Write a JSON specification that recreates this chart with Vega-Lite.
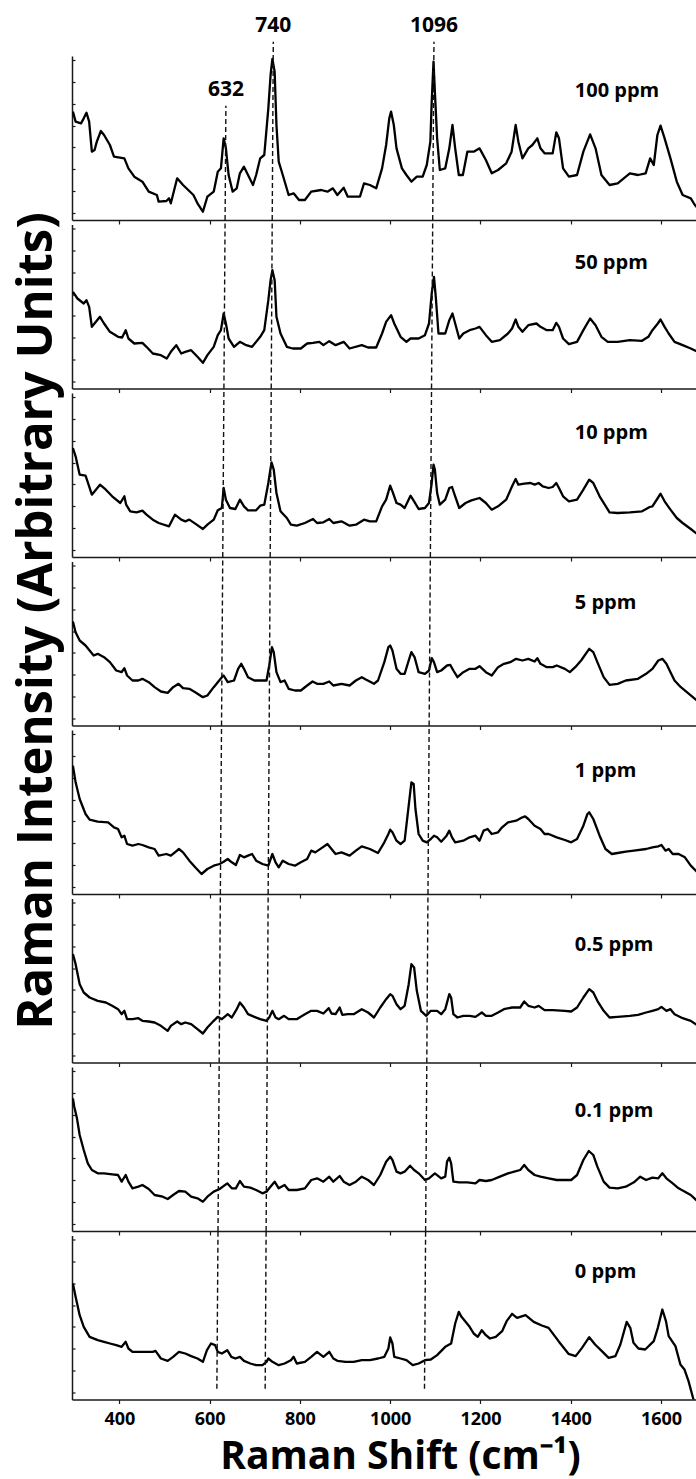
{
  "$schema": "https://vega.github.io/schema/vega-lite/v6.json",
  "description": "Stacked SERS spectra at eight concentrations with guide lines at 632, 740 and 1096 cm-1.",
  "padding": {"left": 11, "top": 14, "right": 0, "bottom": 0},
  "spacing": 4.5,
  "bounds": "flush",
  "config": {
    "font": "Open Sans",
    "view": {"stroke": null},
    "axis": {
      "grid": false,
      "domainColor": "#1a1a1a",
      "domainWidth": 1.5,
      "tickColor": "#1a1a1a",
      "tickWidth": 1.2,
      "labelFont": "Open Sans",
      "labelFontWeight": "bold",
      "labelFontSize": 18,
      "labelColor": "#000",
      "titleFont": "Open Sans",
      "titleFontWeight": "bold",
      "titleColor": "#000"
    }
  },
  "data": {
    "values": [
      {"conc": "100 ppm", "kind": "spectrum",
       "shift": [297,303,315,321,327,333,339,345,350,359,366,379,388,411,420,433,451,465,483,487,504,510,514,528,541,564,573,585,595,609,618,625,631,636,642,651,660,667,676,685,696,703,712,721,730,735,739,744,748,753,762,775,786,798,811,825,847,861,873,883,897,906,933,942,955,969,982,991,998,1002,1008,1014,1026,1036,1047,1059,1072,1081,1089,1092,1096,1099,1104,1110,1122,1131,1138,1144,1152,1161,1171,1185,1198,1212,1225,1239,1257,1269,1278,1284,1293,1306,1315,1326,1333,1342,1360,1368,1374,1383,1396,1414,1428,1443,1455,1468,1486,1504,1531,1549,1566,1576,1584,1592,1599,1608,1621,1635,1648,1666,1675,1682],
       "inten": [325,295,290,305,322,295,205,210,235,267,255,225,190,185,155,130,115,85,75,55,57,65,50,125,105,75,50,25,70,85,145,155,245,215,135,85,95,140,160,135,105,135,185,195,335,435,483,445,285,175,135,75,80,60,60,85,90,85,95,75,97,70,70,110,105,95,155,225,305,325,285,215,155,135,115,130,130,165,235,355,475,385,245,150,155,215,285,215,135,135,205,205,215,180,140,150,170,205,285,235,185,215,225,245,215,200,200,263,245,155,130,135,205,257,215,135,105,110,140,135,140,185,165,255,283,245,185,115,75,65,45,35]},
      {"conc": "50 ppm", "kind": "spectrum",
       "shift": [297,307,321,327,333,339,348,357,366,379,397,406,414,420,433,451,460,474,492,505,514,526,537,546,559,573,585,595,609,618,625,631,636,642,654,667,681,694,712,721,730,735,739,744,748,757,771,784,802,816,829,843,852,865,879,897,910,937,951,969,982,991,1002,1009,1023,1036,1045,1063,1077,1086,1092,1097,1101,1107,1122,1131,1138,1144,1153,1162,1176,1189,1198,1212,1225,1243,1261,1270,1278,1284,1293,1306,1324,1333,1347,1360,1368,1374,1383,1396,1414,1428,1443,1455,1468,1482,1504,1531,1558,1572,1581,1593,1599,1608,1617,1630,1648,1666,1682],
       "inten": [290,270,255,265,245,185,200,215,195,170,155,153,175,150,135,137,125,105,100,90,110,130,105,110,115,95,77,100,125,160,175,225,195,150,125,140,130,125,155,175,265,325,355,325,215,165,125,120,120,135,137,140,130,142,130,140,120,130,123,123,165,200,220,195,155,140,150,150,160,195,285,335,275,165,165,205,225,195,150,165,175,180,185,160,140,145,165,180,207,185,170,190,195,185,175,175,197,185,150,133,140,175,210,190,155,140,140,145,143,155,175,195,207,185,165,140,130,120,110]},
      {"conc": "10 ppm", "kind": "spectrum",
       "shift": [297,303,312,325,333,339,348,357,370,384,402,411,415,424,438,451,460,474,487,510,523,537,546,555,568,585,595,609,618,627,631,636,645,657,667,676,685,703,712,721,730,737,742,748,757,771,780,793,811,829,838,852,865,874,892,910,924,942,955,969,982,991,1000,1005,1014,1023,1032,1045,1053,1063,1077,1086,1092,1096,1099,1104,1110,1122,1131,1137,1144,1153,1167,1180,1198,1212,1225,1239,1257,1270,1278,1284,1297,1311,1320,1329,1338,1351,1360,1368,1374,1383,1396,1414,1428,1441,1450,1464,1486,1504,1531,1558,1575,1581,1593,1599,1608,1621,1635,1648,1666,1682],
       "inten": [327,302,247,244,212,187,202,217,202,182,162,182,157,137,134,139,127,112,102,92,127,112,107,112,100,84,97,112,140,147,207,172,147,144,172,152,140,140,154,157,222,284,262,192,137,117,97,94,102,114,102,104,114,102,107,94,97,112,107,107,152,172,214,197,162,157,147,184,167,144,147,162,222,277,262,192,157,172,207,210,182,147,162,170,177,162,142,152,172,212,234,217,220,222,217,222,212,207,210,222,207,182,167,172,202,232,222,182,134,132,134,137,150,152,177,190,167,142,117,102,84,67]},
      {"conc": "5 ppm", "kind": "spectrum",
       "shift": [297,303,312,325,334,343,352,366,379,393,405,411,417,429,442,451,465,478,492,507,519,531,541,555,568,585,595,609,618,627,631,640,654,663,670,676,685,699,712,726,732,738,742,748,757,766,775,789,802,816,828,838,852,865,874,892,910,924,937,946,964,973,987,996,1000,1005,1014,1023,1032,1041,1047,1054,1063,1077,1086,1092,1097,1104,1113,1126,1133,1140,1149,1162,1176,1189,1198,1212,1225,1239,1252,1266,1279,1293,1306,1320,1326,1333,1347,1360,1369,1387,1398,1410,1423,1441,1450,1459,1473,1486,1504,1522,1549,1567,1581,1594,1603,1612,1621,1630,1644,1662,1682],
       "inten": [312,280,255,240,225,210,215,205,190,165,160,172,150,135,135,140,130,115,102,98,115,125,112,110,100,85,90,115,130,145,150,130,135,170,185,170,145,135,135,135,180,235,220,160,130,135,110,105,105,120,132,125,125,132,120,125,120,135,145,138,125,135,190,235,240,225,170,155,155,195,220,205,160,155,165,202,190,160,165,180,182,165,145,160,170,170,178,160,150,175,185,190,200,195,200,192,202,185,175,175,180,170,160,175,195,230,220,190,145,122,125,135,140,155,170,195,200,185,160,135,115,95,72]},
      {"conc": "1 ppm", "kind": "spectrum",
       "shift": [297,303,312,325,334,352,375,388,397,405,411,417,429,442,451,465,478,487,504,514,523,532,541,555,568,582,595,609,622,631,640,649,658,667,676,685,694,703,717,730,739,746,753,762,775,789,802,816,825,834,847,861,870,879,892,910,924,937,955,973,987,996,1000,1005,1014,1023,1032,1041,1047,1052,1056,1063,1072,1081,1090,1097,1104,1113,1125,1131,1137,1144,1162,1176,1189,1198,1207,1216,1225,1239,1248,1261,1279,1293,1299,1306,1320,1333,1342,1351,1369,1387,1401,1414,1428,1437,1441,1450,1464,1477,1491,1504,1522,1540,1567,1581,1594,1601,1610,1617,1626,1639,1653,1666,1682],
       "inten": [385,335,285,240,223,217,215,200,195,170,175,150,145,150,147,140,135,115,120,115,125,135,125,100,80,60,75,85,90,97,105,95,87,117,110,115,120,100,90,85,120,95,80,100,90,85,95,105,130,125,137,150,135,120,125,115,130,143,135,123,155,180,193,185,160,150,160,265,335,330,255,180,160,155,165,175,170,157,175,190,170,155,160,170,175,160,190,195,180,185,200,215,220,230,233,225,205,195,180,180,170,162,155,165,205,240,245,225,175,135,120,123,127,130,135,140,143,147,130,135,120,120,110,85,63]},
      {"conc": "0.5 ppm", "kind": "spectrum",
       "shift": [297,303,312,321,334,352,370,384,397,405,411,417,429,442,451,465,478,492,507,514,528,537,546,559,573,585,595,609,618,627,640,649,660,667,676,685,699,712,726,732,739,746,753,765,775,793,811,825,838,852,864,870,879,888,894,906,919,937,951,964,978,991,1000,1005,1014,1023,1032,1041,1047,1053,1059,1068,1080,1090,1104,1113,1122,1131,1135,1140,1149,1162,1176,1189,1203,1212,1225,1239,1252,1270,1288,1297,1306,1320,1329,1342,1360,1387,1401,1414,1428,1441,1450,1459,1473,1486,1504,1531,1549,1567,1581,1594,1601,1612,1621,1630,1648,1666,1682],
       "inten": [325,295,235,210,195,185,180,170,160,145,155,130,130,133,125,123,120,110,95,110,123,115,120,115,100,87,105,125,137,130,145,135,160,180,165,145,137,130,125,135,155,135,130,140,130,130,145,155,155,147,163,147,145,165,143,145,145,160,150,135,165,190,205,200,175,160,170,235,295,285,215,155,140,155,155,145,160,205,195,145,135,140,140,137,150,140,140,150,160,165,165,183,170,165,170,157,157,155,153,165,195,220,210,185,155,135,137,140,143,150,155,160,167,155,160,145,133,125,110]},
      {"conc": "0.1 ppm", "kind": "spectrum",
       "shift": [297,300,306,312,321,330,339,352,366,384,397,405,414,420,429,442,451,465,478,496,507,519,532,546,559,573,585,595,609,622,639,649,658,667,676,690,703,717,726,732,744,753,766,775,793,811,825,838,852,865,874,888,897,910,924,937,951,964,978,991,1000,1005,1014,1023,1032,1044,1053,1063,1077,1086,1099,1113,1122,1126,1131,1135,1140,1153,1171,1189,1198,1212,1225,1243,1261,1275,1288,1297,1306,1320,1333,1351,1369,1387,1401,1414,1428,1440,1450,1459,1473,1486,1504,1522,1540,1554,1567,1581,1594,1603,1612,1626,1639,1653,1666,1682],
       "inten": [398,373,338,288,243,203,183,173,173,170,168,148,168,148,128,133,138,126,108,103,96,108,120,118,103,98,88,103,118,126,143,128,128,150,133,130,123,113,118,128,148,128,138,123,123,128,153,158,148,163,148,165,148,138,148,163,153,138,168,208,223,213,178,173,178,196,183,173,153,158,173,158,163,208,220,203,148,146,146,143,153,150,153,163,173,178,183,198,183,168,163,158,153,153,153,168,213,240,228,193,148,130,128,133,146,163,153,160,158,173,158,143,128,118,108,88]},
      {"conc": "0 ppm", "kind": "spectrum",
       "shift": [297,303,312,321,334,352,366,379,393,405,414,420,429,442,460,474,480,492,507,519,532,546,559,573,585,594,603,612,618,627,639,648,657,667,676,690,703,717,726,730,739,753,766,780,786,793,811,825,838,852,865,874,883,901,919,937,955,973,987,996,1000,1005,1009,1023,1036,1050,1063,1077,1090,1104,1122,1135,1144,1152,1158,1167,1176,1185,1194,1203,1212,1221,1234,1248,1258,1270,1281,1300,1318,1336,1351,1373,1395,1411,1425,1441,1454,1469,1484,1499,1510,1524,1532,1539,1550,1565,1584,1593,1603,1611,1617,1632,1643,1652,1661,1672,1682],
       "inten": [348,308,253,218,188,178,173,168,163,158,173,153,143,143,143,143,146,123,116,128,143,138,130,123,113,148,168,163,143,138,148,128,123,128,116,108,103,103,113,123,113,103,108,118,128,108,113,128,143,128,143,123,116,113,113,118,118,123,128,153,186,168,128,123,118,103,108,118,120,133,158,168,228,263,248,233,218,198,188,208,193,183,188,205,235,257,245,253,233,222,215,175,137,130,155,187,165,145,125,130,165,233,215,170,153,150,175,215,270,235,190,160,105,90,55,0,-25]},
      {"conc": "100 ppm", "kind": "guide", "line": "632", "shift": [636, 634.2], "inten": [343, 0]},
      {"conc": "100 ppm", "kind": "guide", "line": "740", "shift": [741, 738.6], "inten": [535, 0]},
      {"conc": "100 ppm", "kind": "guide", "line": "1096", "shift": [1097, 1094.2], "inten": [535, 0]},
      {"conc": "50 ppm", "kind": "guide", "line": "632", "shift": [634.2, 631.6], "inten": [505.5, 0]},
      {"conc": "50 ppm", "kind": "guide", "line": "740", "shift": [738.6, 736.4], "inten": [505.5, 0]},
      {"conc": "50 ppm", "kind": "guide", "line": "1096", "shift": [1094.2, 1091.6], "inten": [505.5, 0]},
      {"conc": "10 ppm", "kind": "guide", "line": "632", "shift": [631.6, 629.0], "inten": [505.5, 0]},
      {"conc": "10 ppm", "kind": "guide", "line": "740", "shift": [736.4, 734.1], "inten": [505.5, 0]},
      {"conc": "10 ppm", "kind": "guide", "line": "1096", "shift": [1091.6, 1089.0], "inten": [505.5, 0]},
      {"conc": "5 ppm", "kind": "guide", "line": "632", "shift": [629.0, 626.3], "inten": [505.5, 0]},
      {"conc": "5 ppm", "kind": "guide", "line": "740", "shift": [734.1, 731.9], "inten": [505.5, 0]},
      {"conc": "5 ppm", "kind": "guide", "line": "1096", "shift": [1089.0, 1086.3], "inten": [505.5, 0]},
      {"conc": "1 ppm", "kind": "guide", "line": "632", "shift": [626.3, 623.7], "inten": [505.5, 0]},
      {"conc": "1 ppm", "kind": "guide", "line": "740", "shift": [731.9, 729.6], "inten": [505.5, 0]},
      {"conc": "1 ppm", "kind": "guide", "line": "1096", "shift": [1086.3, 1083.7], "inten": [505.5, 0]},
      {"conc": "0.5 ppm", "kind": "guide", "line": "632", "shift": [623.7, 621.1], "inten": [505.5, 0]},
      {"conc": "0.5 ppm", "kind": "guide", "line": "740", "shift": [729.6, 727.4], "inten": [505.5, 0]},
      {"conc": "0.5 ppm", "kind": "guide", "line": "1096", "shift": [1083.7, 1081.1], "inten": [505.5, 0]},
      {"conc": "0.1 ppm", "kind": "guide", "line": "632", "shift": [621.1, 618.5], "inten": [505.5, 0]},
      {"conc": "0.1 ppm", "kind": "guide", "line": "740", "shift": [727.4, 725.1], "inten": [505.5, 0]},
      {"conc": "0.1 ppm", "kind": "guide", "line": "1096", "shift": [1081.1, 1078.5], "inten": [505.5, 0]},
      {"conc": "0 ppm", "kind": "guide", "line": "632", "shift": [618.5, 616.0], "inten": [505.5, 32]},
      {"conc": "0 ppm", "kind": "guide", "line": "740", "shift": [725.1, 723.0], "inten": [505.5, 32]},
      {"conc": "0 ppm", "kind": "guide", "line": "1096", "shift": [1078.5, 1076.0], "inten": [505.5, 32]}
    ]
  },
  "transform": [{"flatten": ["shift", "inten"]}],
  "vconcat": [
    {
      "width": 626, "height": 164,
      "encoding": {
        "x": {"field": "shift", "type": "quantitative", "scale": {"domain": [295, 1682], "nice": false, "zero": false},
              "axis": {"values": [400, 600, 800, 1000, 1200, 1400, 1600], "labels": false, "title": null, "tickSize": 4}},
        "y": {"field": "inten", "type": "quantitative", "scale": {"domain": [0, 492], "nice": false, "zero": false},
              "axis": {"values": [22, 87, 153, 218, 283, 349, 414, 480], "labels": false, "title": null, "tickSize": -3}}
      },
      "layer": [
        {"transform": [{"filter": "datum.conc === '100 ppm' && datum.kind === 'spectrum'"}],
         "mark": {"type": "line", "color": "#000", "strokeWidth": 2.3, "strokeJoin": "round", "clip": true}},
        {"transform": [{"filter": "datum.conc === '100 ppm' && datum.kind === 'guide'"}],
         "mark": {"type": "line", "color": "#111", "strokeWidth": 1.4, "strokeDash": [5, 3], "clip": false},
         "encoding": {"detail": {"field": "line"}}},
        {"transform": [{"filter": "datum.conc === '100 ppm' && datum.kind === 'guide' && datum.inten > 300"}],
         "mark": {"type": "text", "baseline": "alphabetic", "dy": -10, "fontSize": 21, "fontWeight": "bold", "color": "#000", "clip": false},
         "encoding": {"text": {"field": "line"}}},
        {"transform": [{"filter": "datum.conc === '100 ppm' && datum.kind === 'spectrum' && datum.shift === 297"}],
         "mark": {"type": "text", "align": "left", "baseline": "alphabetic", "fontSize": 20, "fontWeight": "bold", "color": "#000"},
         "encoding": {"x": {"datum": 1409}, "y": {"datum": 370}, "text": {"field": "conc"}}}
      ]
    },
    {
      "width": 626, "height": 164,
      "encoding": {
        "x": {"field": "shift", "type": "quantitative", "scale": {"domain": [295, 1682], "nice": false, "zero": false},
              "axis": {"values": [400, 600, 800, 1000, 1200, 1400, 1600], "labels": false, "title": null, "tickSize": 4}},
        "y": {"field": "inten", "type": "quantitative", "scale": {"domain": [0, 492], "nice": false, "zero": false},
              "axis": {"values": [22, 87, 153, 218, 283, 349, 414, 480], "labels": false, "title": null, "tickSize": -3}}
      },
      "layer": [
        {"transform": [{"filter": "datum.conc === '50 ppm' && datum.kind === 'spectrum'"}],
         "mark": {"type": "line", "color": "#000", "strokeWidth": 2.3, "strokeJoin": "round", "clip": true}},
        {"transform": [{"filter": "datum.conc === '50 ppm' && datum.kind === 'guide'"}],
         "mark": {"type": "line", "color": "#111", "strokeWidth": 1.4, "strokeDash": [5, 3], "clip": false},
         "encoding": {"detail": {"field": "line"}}},
        {"transform": [{"filter": "datum.conc === '50 ppm' && datum.kind === 'spectrum' && datum.shift === 297"}],
         "mark": {"type": "text", "align": "left", "baseline": "alphabetic", "fontSize": 20, "fontWeight": "bold", "color": "#000"},
         "encoding": {"x": {"datum": 1409}, "y": {"datum": 360}, "text": {"field": "conc"}}}
      ]
    },
    {
      "width": 626, "height": 164,
      "encoding": {
        "x": {"field": "shift", "type": "quantitative", "scale": {"domain": [295, 1682], "nice": false, "zero": false},
              "axis": {"values": [400, 600, 800, 1000, 1200, 1400, 1600], "labels": false, "title": null, "tickSize": 4}},
        "y": {"field": "inten", "type": "quantitative", "scale": {"domain": [0, 492], "nice": false, "zero": false},
              "axis": {"values": [22, 87, 153, 218, 283, 349, 414, 480], "labels": false, "title": null, "tickSize": -3}}
      },
      "layer": [
        {"transform": [{"filter": "datum.conc === '10 ppm' && datum.kind === 'spectrum'"}],
         "mark": {"type": "line", "color": "#000", "strokeWidth": 2.3, "strokeJoin": "round", "clip": true}},
        {"transform": [{"filter": "datum.conc === '10 ppm' && datum.kind === 'guide'"}],
         "mark": {"type": "line", "color": "#111", "strokeWidth": 1.4, "strokeDash": [5, 3], "clip": false},
         "encoding": {"detail": {"field": "line"}}},
        {"transform": [{"filter": "datum.conc === '10 ppm' && datum.kind === 'spectrum' && datum.shift === 297"}],
         "mark": {"type": "text", "align": "left", "baseline": "alphabetic", "fontSize": 20, "fontWeight": "bold", "color": "#000"},
         "encoding": {"x": {"datum": 1409}, "y": {"datum": 355}, "text": {"field": "conc"}}}
      ]
    },
    {
      "width": 626, "height": 164,
      "encoding": {
        "x": {"field": "shift", "type": "quantitative", "scale": {"domain": [295, 1682], "nice": false, "zero": false},
              "axis": {"values": [400, 600, 800, 1000, 1200, 1400, 1600], "labels": false, "title": null, "tickSize": 4}},
        "y": {"field": "inten", "type": "quantitative", "scale": {"domain": [0, 492], "nice": false, "zero": false},
              "axis": {"values": [22, 87, 153, 218, 283, 349, 414, 480], "labels": false, "tickSize": -3,
                       "title": "Raman Intensity (Arbitrary Units)", "titleFontSize": 49, "titleX": -21, "titleY": 59,
                       "titleAngle": -90, "titleBaseline": "alphabetic", "titleAlign": "center"}}
      },
      "layer": [
        {"transform": [{"filter": "datum.conc === '5 ppm' && datum.kind === 'spectrum'"}],
         "mark": {"type": "line", "color": "#000", "strokeWidth": 2.3, "strokeJoin": "round", "clip": true}},
        {"transform": [{"filter": "datum.conc === '5 ppm' && datum.kind === 'guide'"}],
         "mark": {"type": "line", "color": "#111", "strokeWidth": 1.4, "strokeDash": [5, 3], "clip": false},
         "encoding": {"detail": {"field": "line"}}},
        {"transform": [{"filter": "datum.conc === '5 ppm' && datum.kind === 'spectrum' && datum.shift === 297"}],
         "mark": {"type": "text", "align": "left", "baseline": "alphabetic", "fontSize": 20, "fontWeight": "bold", "color": "#000"},
         "encoding": {"x": {"datum": 1409}, "y": {"datum": 350}, "text": {"field": "conc"}}}
      ]
    },
    {
      "width": 626, "height": 164,
      "encoding": {
        "x": {"field": "shift", "type": "quantitative", "scale": {"domain": [295, 1682], "nice": false, "zero": false},
              "axis": {"values": [400, 600, 800, 1000, 1200, 1400, 1600], "labels": false, "title": null, "tickSize": 4}},
        "y": {"field": "inten", "type": "quantitative", "scale": {"domain": [0, 492], "nice": false, "zero": false},
              "axis": {"values": [22, 87, 153, 218, 283, 349, 414, 480], "labels": false, "title": null, "tickSize": -3}}
      },
      "layer": [
        {"transform": [{"filter": "datum.conc === '1 ppm' && datum.kind === 'spectrum'"}],
         "mark": {"type": "line", "color": "#000", "strokeWidth": 2.3, "strokeJoin": "round", "clip": true}},
        {"transform": [{"filter": "datum.conc === '1 ppm' && datum.kind === 'guide'"}],
         "mark": {"type": "line", "color": "#111", "strokeWidth": 1.4, "strokeDash": [5, 3], "clip": false},
         "encoding": {"detail": {"field": "line"}}},
        {"transform": [{"filter": "datum.conc === '1 ppm' && datum.kind === 'spectrum' && datum.shift === 297"}],
         "mark": {"type": "text", "align": "left", "baseline": "alphabetic", "fontSize": 20, "fontWeight": "bold", "color": "#000"},
         "encoding": {"x": {"datum": 1409}, "y": {"datum": 350}, "text": {"field": "conc"}}}
      ]
    },
    {
      "width": 626, "height": 164,
      "encoding": {
        "x": {"field": "shift", "type": "quantitative", "scale": {"domain": [295, 1682], "nice": false, "zero": false},
              "axis": {"values": [400, 600, 800, 1000, 1200, 1400, 1600], "labels": false, "title": null, "tickSize": 4}},
        "y": {"field": "inten", "type": "quantitative", "scale": {"domain": [0, 492], "nice": false, "zero": false},
              "axis": {"values": [22, 87, 153, 218, 283, 349, 414, 480], "labels": false, "title": null, "tickSize": -3}}
      },
      "layer": [
        {"transform": [{"filter": "datum.conc === '0.5 ppm' && datum.kind === 'spectrum'"}],
         "mark": {"type": "line", "color": "#000", "strokeWidth": 2.3, "strokeJoin": "round", "clip": true}},
        {"transform": [{"filter": "datum.conc === '0.5 ppm' && datum.kind === 'guide'"}],
         "mark": {"type": "line", "color": "#111", "strokeWidth": 1.4, "strokeDash": [5, 3], "clip": false},
         "encoding": {"detail": {"field": "line"}}},
        {"transform": [{"filter": "datum.conc === '0.5 ppm' && datum.kind === 'spectrum' && datum.shift === 297"}],
         "mark": {"type": "text", "align": "left", "baseline": "alphabetic", "fontSize": 20, "fontWeight": "bold", "color": "#000"},
         "encoding": {"x": {"datum": 1409}, "y": {"datum": 335}, "text": {"field": "conc"}}}
      ]
    },
    {
      "width": 626, "height": 164,
      "encoding": {
        "x": {"field": "shift", "type": "quantitative", "scale": {"domain": [295, 1682], "nice": false, "zero": false},
              "axis": {"values": [400, 600, 800, 1000, 1200, 1400, 1600], "labels": false, "title": null, "tickSize": 4}},
        "y": {"field": "inten", "type": "quantitative", "scale": {"domain": [0, 492], "nice": false, "zero": false},
              "axis": {"values": [22, 87, 153, 218, 283, 349, 414, 480], "labels": false, "title": null, "tickSize": -3}}
      },
      "layer": [
        {"transform": [{"filter": "datum.conc === '0.1 ppm' && datum.kind === 'spectrum'"}],
         "mark": {"type": "line", "color": "#000", "strokeWidth": 2.3, "strokeJoin": "round", "clip": true}},
        {"transform": [{"filter": "datum.conc === '0.1 ppm' && datum.kind === 'guide'"}],
         "mark": {"type": "line", "color": "#111", "strokeWidth": 1.4, "strokeDash": [5, 3], "clip": false},
         "encoding": {"detail": {"field": "line"}}},
        {"transform": [{"filter": "datum.conc === '0.1 ppm' && datum.kind === 'spectrum' && datum.shift === 297"}],
         "mark": {"type": "text", "align": "left", "baseline": "alphabetic", "fontSize": 20, "fontWeight": "bold", "color": "#000"},
         "encoding": {"x": {"datum": 1409}, "y": {"datum": 343}, "text": {"field": "conc"}}}
      ]
    },
    {
      "width": 626, "height": 164,
      "encoding": {
        "x": {"field": "shift", "type": "quantitative", "scale": {"domain": [295, 1682], "nice": false, "zero": false},
              "axis": {"values": [400, 600, 800, 1000, 1200, 1400, 1600], "format": "d", "labels": true, "tickSize": 4, "labelPadding": 7,
                       "title": "Raman Shift (cm⁻¹)", "titleFontSize": 39, "titleX": 328, "titleY": 69,
                       "titleBaseline": "alphabetic", "titleAlign": "center"}},
        "y": {"field": "inten", "type": "quantitative", "scale": {"domain": [0, 492], "nice": false, "zero": false},
              "axis": {"values": [22, 87, 153, 218, 283, 349, 414, 480], "labels": false, "title": null, "tickSize": -3}}
      },
      "layer": [
        {"transform": [{"filter": "datum.conc === '0 ppm' && datum.kind === 'spectrum'"}],
         "mark": {"type": "line", "color": "#000", "strokeWidth": 2.3, "strokeJoin": "round", "clip": true}},
        {"transform": [{"filter": "datum.conc === '0 ppm' && datum.kind === 'guide'"}],
         "mark": {"type": "line", "color": "#111", "strokeWidth": 1.4, "strokeDash": [5, 3], "clip": false},
         "encoding": {"detail": {"field": "line"}}},
        {"transform": [{"filter": "datum.conc === '0 ppm' && datum.kind === 'spectrum' && datum.shift === 297"}],
         "mark": {"type": "text", "align": "left", "baseline": "alphabetic", "fontSize": 20, "fontWeight": "bold", "color": "#000"},
         "encoding": {"x": {"datum": 1409}, "y": {"datum": 365}, "text": {"field": "conc"}}}
      ]
    }
  ]
}
